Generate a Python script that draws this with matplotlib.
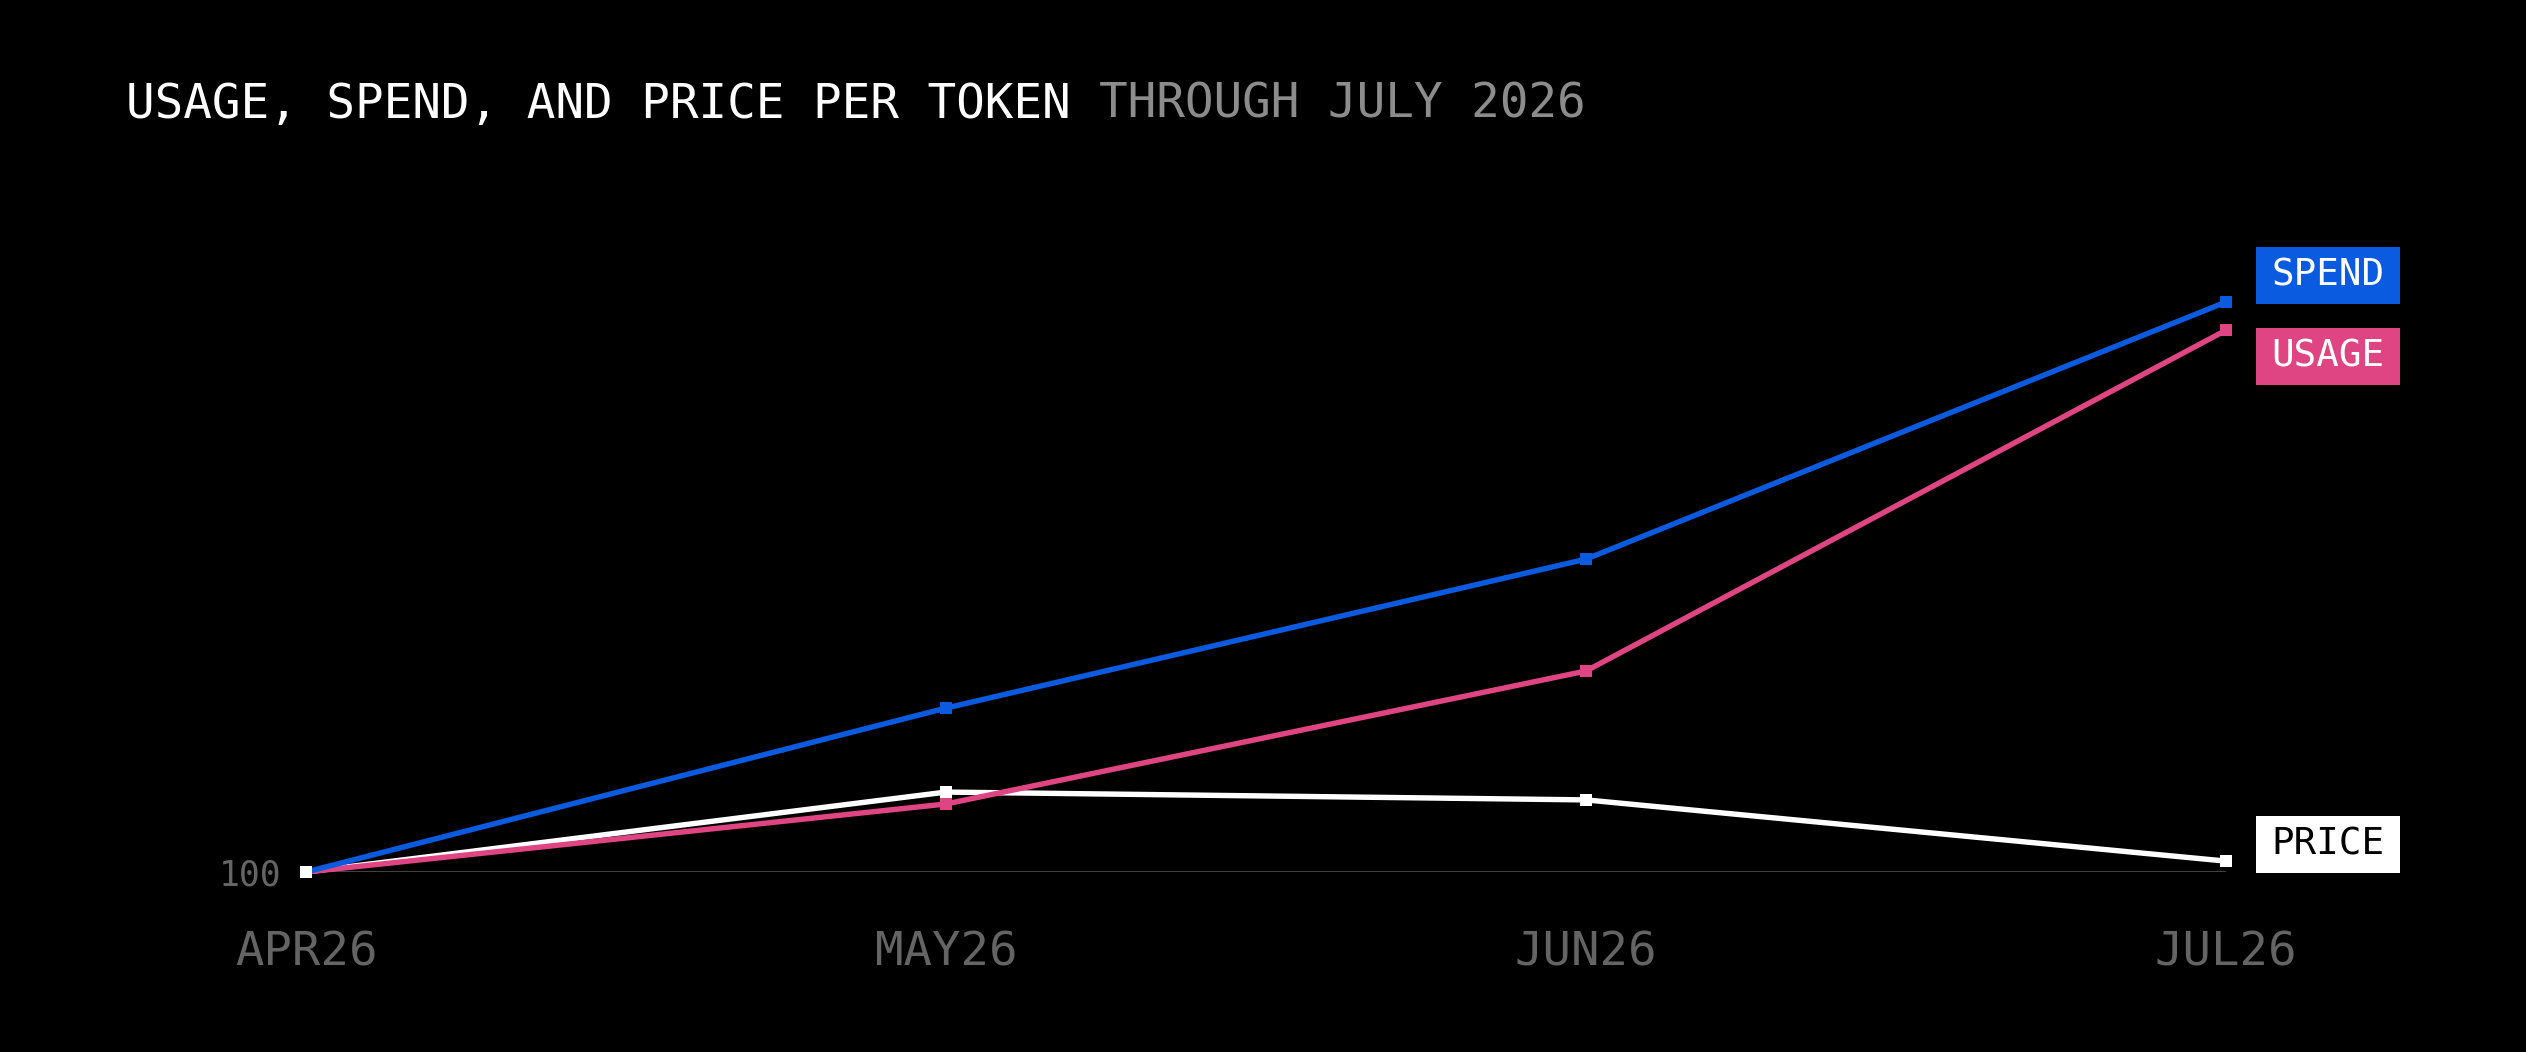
import matplotlib
matplotlib.use("Agg")
import matplotlib.pyplot as plt
from matplotlib.patches import Rectangle
from matplotlib.transforms import IdentityTransform

# ---- data ----
months = ["APR26", "MAY26", "JUN26", "JUL26"]
spend = [100, 148.2, 192.0, 267.6]
usage = [100, 120.0, 159.1, 259.3]
price = [100, 123.5, 121.2, 103.2]
series_names = ["SPEND", "USAGE", "PRICE"]
title_main = "USAGE, SPEND, AND PRICE PER TOKEN"
title_sub = "THROUGH JULY 2026"
ytick_vals = [100]

# ---- style ----
BLUE = "#0a5be0"
PINK = "#df4582"
WHITE = "#ffffff"
FONT = "DejaVu Sans Mono"

W, H = 2526, 1052
fig = plt.figure(figsize=(W / 100, H / 100), dpi=100, facecolor="black")
ax_left, ax_right = 306, 2226
ax_bottom = 180
ymin, ymax = 100, 270
px_per_unit = 3.401
ax_height = (ymax - ymin) * px_per_unit
ax = fig.add_axes([ax_left / W, ax_bottom / H, (ax_right - ax_left) / W, ax_height / H])
ax.set_facecolor("black")
ax.set_xlim(0, len(months) - 1)
ax.set_ylim(ymin, ymax)
for s in ax.spines.values():
    s.set_visible(False)

x = list(range(len(months)))
ax.axhline(100, color="#4a4a4a", lw=2.0, zorder=1)

lw = 3.9
ms = 8.7
data = {"SPEND": (spend, BLUE), "USAGE": (usage, PINK), "PRICE": (price, WHITE)}
for name, z in [("PRICE", 2), ("USAGE", 3), ("SPEND", 4)]:
    vals, col = data[name]
    ax.plot(x, vals, color=col, lw=lw, solid_capstyle="butt", zorder=z, clip_on=False)
for name, z in [("SPEND", 5), ("USAGE", 6), ("PRICE", 7)]:
    vals, col = data[name]
    ax.plot(x, vals, ls="none", marker="s", ms=ms, mew=0, color=col, zorder=z, clip_on=False)

ax.set_xticks(x, months)
ax.set_yticks(ytick_vals, [str(v) for v in ytick_vals])
ax.tick_params(axis="x", length=0, pad=42, labelsize=34, labelcolor="#646464")
ax.tick_params(axis="y", length=0, pad=18, labelsize=25, labelcolor="#646464")
for lab in ax.get_xticklabels() + ax.get_yticklabels():
    lab.set_fontfamily(FONT)

# ---- end labels ----
box_w, box_h = 144, 57
offsets = {"SPEND": 26.5, "USAGE": -26.5, "PRICE": 16.5}
text_cols = {"SPEND": WHITE, "USAGE": WHITE, "PRICE": "black"}
for name in series_names:
    vals, col = data[name]
    px, py = ax.transData.transform((x[-1], vals[-1]))
    cx = px + 30 + box_w / 2
    cy = py + offsets[name]
    rect = Rectangle((cx - box_w / 2, cy - box_h / 2), box_w, box_h,
                     facecolor=col, edgecolor="none", transform=IdentityTransform())
    fig.add_artist(rect)
    fig.text(cx / W, cy / H, name, ha="center", va="center", color=text_cols[name],
             fontsize=27, fontfamily=FONT)

# ---- title ----
ty = (H - 118) / H
t1 = fig.text(126 / W, ty, title_main, color=WHITE, fontsize=34.3,
              fontfamily=FONT, va="baseline", ha="left")
fig.canvas.draw()
ext = t1.get_window_extent()
char_w = ext.width / len(title_main)
fig.text((ext.x1 + char_w) / W, ty, title_sub, color="#8c8c8c", fontsize=34.3,
         fontfamily=FONT, va="baseline", ha="left")

fig.savefig("out.png", dpi=100, facecolor="black")
